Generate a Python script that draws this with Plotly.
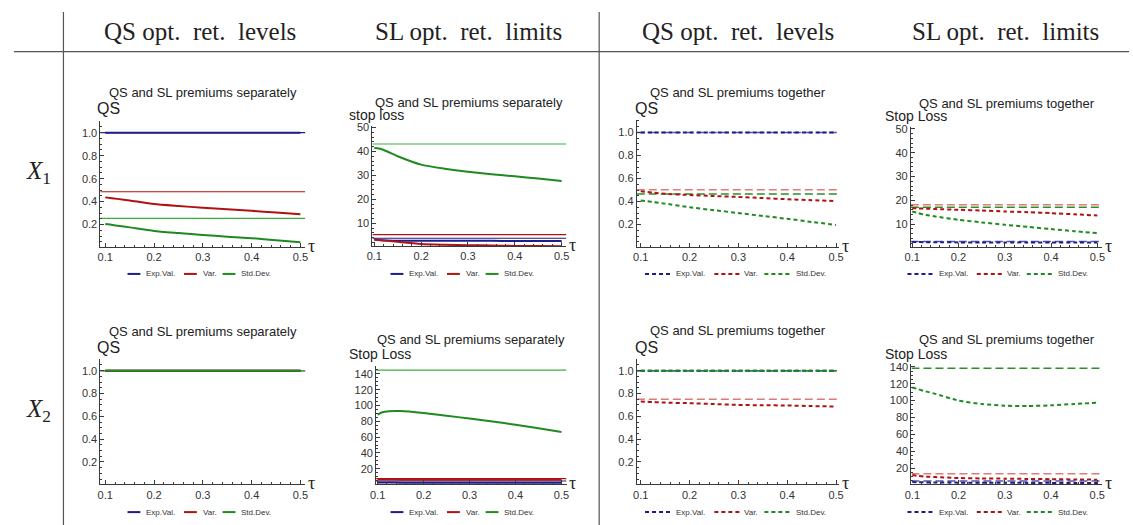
import plotly.graph_objects as go

W, H = 1133, 525

# ---------------- data ----------------
TAU = [0.1, 0.11, 0.125, 0.15, 0.2, 0.25, 0.3, 0.35, 0.4, 0.45, 0.5]
SERIES = ["Exp.Val.", "Var.", "Std.Dev."]
COL_HEADERS = ["QS opt.\u00a0 ret.\u00a0 levels", "SL opt.\u00a0 ret.\u00a0 limits",
               "QS opt.\u00a0 ret.\u00a0 levels", "SL opt.\u00a0 ret.\u00a0 limits"]
ROW_LABELS = ["<i>X</i><sub>1</sub>", "<i>X</i><sub>2</sub>"]
PANEL_TITLES = ["QS and SL premiums separately", "QS and SL premiums separately",
                "QS and SL premiums together", "QS and SL premiums together"]
Y_LABELS = [["QS", "stop loss", "QS", "Stop Loss"],
            ["QS", "Stop Loss", "QS", "Stop Loss"]]

# X1, QS, separately  (constants: Exp.Val., Var., Std.Dev.)
X1_QS_SEP_CONST = [1.0, 0.486, 0.255]
X1_QS_SEP_EV = [1.0, 1.0, 1.0, 1.0, 1.0, 1.0, 1.0, 1.0, 1.0, 1.0, 1.0]
X1_QS_SEP_VAR = [0.437, 0.432, 0.424, 0.41, 0.379, 0.362, 0.347, 0.333, 0.32, 0.305, 0.29]
X1_QS_SEP_SD = [0.206, 0.2, 0.191, 0.176, 0.145, 0.127, 0.11, 0.095, 0.082, 0.064, 0.047]

# X1, SL, separately
X1_SL_SEP_CONST = [3.8, 5.3, 43.1]
X1_SL_SEP_EV = [3.4, 3.1, 2.9, 2.8, 2.75, 2.7, 2.7, 2.7, 2.65, 2.6, 2.6]
X1_SL_SEP_VAR = [3.2, 3.1, 2.8, 2.3, 1.4, 1.1, 0.9, 0.75, 0.6, 0.55, 0.5]
X1_SL_SEP_SD = [41.4, 41.2, 40.2, 38.0, 34.5, 32.8, 31.5, 30.5, 29.6, 28.7, 27.7]

# X1, QS, together
X1_QS_TOG_CONST = [1.0, 0.503, 0.466]
X1_QS_TOG_EV = [1.0, 1.0, 1.0, 1.0, 1.0, 1.0, 1.0, 1.0, 1.0, 1.0, 1.0]
X1_QS_TOG_VAR = [0.49, 0.485, 0.478, 0.468, 0.457, 0.448, 0.44, 0.43, 0.42, 0.412, 0.405]
X1_QS_TOG_SD = [0.41, 0.404, 0.396, 0.382, 0.35, 0.325, 0.3, 0.275, 0.25, 0.223, 0.197]

# X1, SL, together
X1_SL_TOG_CONST = [2.7, 18.1, 17.1]
X1_SL_TOG_EV = [2.5, 2.45, 2.4, 2.35, 2.3, 2.3, 2.3, 2.3, 2.25, 2.25, 2.2]
X1_SL_TOG_VAR = [16.7, 16.6, 16.5, 16.3, 16.0, 15.7, 15.3, 15.0, 14.6, 14.1, 13.6]
X1_SL_TOG_SD = [15.3, 14.8, 14.0, 13.2, 11.8, 10.7, 9.7, 8.8, 7.9, 7.0, 6.2]

# X2, QS, separately
X2_QS_SEP_CONST = [1.0, 1.0, 1.0]
X2_QS_SEP_EV = [1.0, 1.0, 1.0, 1.0, 1.0, 1.0, 1.0, 1.0, 1.0, 1.0, 1.0]
X2_QS_SEP_VAR = [1.0, 1.0, 1.0, 1.0, 1.0, 1.0, 1.0, 1.0, 1.0, 1.0, 1.0]
X2_QS_SEP_SD = [1.0, 1.0, 1.0, 1.0, 1.0, 1.0, 1.0, 1.0, 1.0, 1.0, 1.0]

# X2, SL, separately
X2_SL_SEP_CONST = [4.5, 7.5, 144.6]
X2_SL_SEP_EV = [2.6, 2.5, 2.5, 2.4, 2.4, 2.3, 2.3, 2.3, 2.3, 2.2, 2.2]
X2_SL_SEP_VAR = [6.5, 6.4, 6.3, 6.2, 6.2, 6.1, 6.1, 6.0, 6.0, 6.0, 6.0]
X2_SL_SEP_SD = [88.5, 91.5, 92.8, 93.0, 90.5, 87.0, 83.5, 79.8, 75.6, 71.2, 66.4]

# X2, QS, together
X2_QS_TOG_CONST = [1.0, 0.75, 1.0]
X2_QS_TOG_EV = [1.0, 1.0, 1.0, 1.0, 1.0, 1.0, 1.0, 1.0, 1.0, 1.0, 1.0]
X2_QS_TOG_VAR = [0.73, 0.728, 0.725, 0.72, 0.715, 0.708, 0.70, 0.697, 0.695, 0.69, 0.686]
X2_QS_TOG_SD = [1.0, 1.0, 1.0, 1.0, 1.0, 1.0, 1.0, 1.0, 1.0, 1.0, 1.0]

# X2, SL, together
X2_SL_TOG_CONST = [4.8, 13.3, 138.3]
X2_SL_TOG_EV = [3.5, 3.3, 3.1, 2.9, 2.8, 2.7, 2.6, 2.5, 2.5, 2.4, 2.4]
X2_SL_TOG_VAR = [11.8, 11.0, 10.0, 9.4, 8.2, 7.8, 7.5, 7.2, 6.9, 6.6, 6.3]
X2_SL_TOG_SD = [115.6, 114.0, 111.5, 108.0, 100.0, 96.0, 94.0, 93.6, 94.4, 96.0, 97.6]

PANEL_DATA = [
    [(X1_QS_SEP_CONST, X1_QS_SEP_EV, X1_QS_SEP_VAR, X1_QS_SEP_SD),
     (X1_SL_SEP_CONST, X1_SL_SEP_EV, X1_SL_SEP_VAR, X1_SL_SEP_SD),
     (X1_QS_TOG_CONST, X1_QS_TOG_EV, X1_QS_TOG_VAR, X1_QS_TOG_SD),
     (X1_SL_TOG_CONST, X1_SL_TOG_EV, X1_SL_TOG_VAR, X1_SL_TOG_SD)],
    [(X2_QS_SEP_CONST, X2_QS_SEP_EV, X2_QS_SEP_VAR, X2_QS_SEP_SD),
     (X2_SL_SEP_CONST, X2_SL_SEP_EV, X2_SL_SEP_VAR, X2_SL_SEP_SD),
     (X2_QS_TOG_CONST, X2_QS_TOG_EV, X2_QS_TOG_VAR, X2_QS_TOG_SD),
     (X2_SL_TOG_CONST, X2_SL_TOG_EV, X2_SL_TOG_VAR, X2_SL_TOG_SD)],
]

# ---------------- layout geometry (pixels) ----------------
GEOM = [
    [dict(x0=94.3, x1=301.2, yb=245, yt=118.1, xr=[0.09, 0.51], yr=[0.004, 1.1], kind="qs"),
     dict(x0=369.0, x1=564.8, yb=244, yt=122.7, xr=[0.096, 0.51], yr=[0.5, 50.7], kind="sl50"),
     dict(x0=636.0, x1=840.6, yb=245, yt=116.7, xr=[0.092, 0.507], yr=[0.004, 1.11], kind="qs"),
     dict(x0=912.7, x1=1106.2, yb=245, yt=123.5, xr=[0.097, 0.511], yr=[0.3, 51], kind="sl50")],
    [dict(x0=94.3, x1=301.2, yb=484, yt=358, xr=[0.09, 0.51], yr=[0.004, 1.1], kind="qs"),
     dict(x0=372.7, x1=565.0, yb=484, yt=364.3, xr=[0.0966, 0.511], yr=[0.3, 150.5], kind="sl140"),
     dict(x0=636.0, x1=840.6, yb=484, yt=358, xr=[0.092, 0.507], yr=[0.004, 1.1], kind="qs"),
     dict(x0=913.3, x1=1106.0, yb=484, yt=362.7, xr=[0.098, 0.511], yr=[0.8, 143.5], kind="sl140")],
]
TITLE_Y = [[89, 99, 89, 100.7], [330, 338.5, 329.5, 338.5]]
YLAB = [[(89, 105), (343, 112), (632, 105), (885, 113)],
        [(89, 346), (343, 353), (632, 346), (885, 353)]]
LEG_Y = [272, 512]
LEG_X = [121.7, 387.3, 644.3, 909.3]

BLUE, RED, GREEN = "#1c1c8a", "#b01212", "#1f8a1f"
CONST_SEP = ["#1c1c8a", "#b01212", "#3aae3a"]
CONST_TOG = ["#5555b0", "#e07a7a", "#2a8f2a"]
AXC = "#3a3a3a"
TXT = "#222222"

def px(x):
    return x / W

def py(y):
    return 1 - y / H

fig = go.Figure()
layout = {}
shapes = []
annotations = []

for r in range(2):
    for c in range(4):
        k = r * 4 + c + 1
        g = GEOM[r][c]
        xa = "x" if k == 1 else f"x{k}"
        ya = "y" if k == 1 else f"y{k}"
        consts, ev, var, sd = PANEL_DATA[r][c]
        together = c >= 2
        cols = [BLUE, RED, GREEN]
        ccols = CONST_TOG if together else CONST_SEP
        # constants (full width)
        for i in range(3):
            fig.add_trace(go.Scatter(
                x=g["xr"], y=[consts[i], consts[i]], mode="lines", xaxis=xa, yaxis=ya,
                line=dict(color=ccols[i], width=1.5 if together else 1.2,
                          dash="8px,4px" if together else "solid"),
                showlegend=False, hoverinfo="skip"))
        # curves
        for i, yy in enumerate([ev, var, sd]):
            fig.add_trace(go.Scatter(
                x=TAU, y=yy, mode="lines", xaxis=xa, yaxis=ya, name=SERIES[i],
                line=dict(color=cols[i], width=2, dash="4px,3px" if together else "solid",
                          shape="spline", smoothing=0.6),
                showlegend=False, hoverinfo="skip"))

        if g["kind"] == "qs":
            ydt, ymin, yfmt = 0.2, 0.05, ".1f"
        elif g["kind"] == "sl50":
            ydt, ymin, yfmt = 10, 2, "d"
        else:
            ydt, ymin, yfmt = 20, 5, "d"

        kx = "xaxis" if k == 1 else f"xaxis{k}"
        ky = "yaxis" if k == 1 else f"yaxis{k}"
        tickfont = dict(family="Liberation Sans, Arial", size=11, color="#333")
        layout[kx] = dict(domain=[px(g["x0"]), px(g["x1"])], range=g["xr"],
                          anchor=ya, showline=True, linecolor=AXC,
                          linewidth=1, ticks="inside", ticklen=4, tickcolor=AXC,
                          tickmode="linear", tick0=0.1, dtick=0.1, tickformat=".1f",
                          minor=dict(ticks="inside", ticklen=2, tickcolor=AXC,
                                     tick0=0.1, dtick=0.02),
                          showgrid=False, zeroline=False, tickfont=tickfont,
                          fixedrange=True)
        layout[ky] = dict(domain=[py(g["yb"]), py(g["yt"])], range=g["yr"],
                          anchor=xa, showline=True, linecolor=AXC, linewidth=1,
                          ticks="inside", ticklen=4, tickcolor=AXC,
                          tickmode="linear", tick0=0, dtick=ydt, tickformat=yfmt,
                          minor=dict(ticks="inside", ticklen=2, tickcolor=AXC,
                                     tick0=0, dtick=ymin),
                          showgrid=False, zeroline=False, tickfont=tickfont,
                          fixedrange=True)

        # panel title
        annotations.append(dict(x=px((g["x0"] + g["x1"]) / 2), y=py(TITLE_Y[r][c]),
                                xref="paper", yref="paper", text=PANEL_TITLES[c],
                                showarrow=False, xanchor="center", yanchor="middle",
                                font=dict(family="Liberation Sans, Arial", size=13, color=TXT)))
        # y label
        lx, ly = YLAB[r][c]
        annotations.append(dict(x=px(lx), y=py(ly), xref="paper", yref="paper",
                                text=Y_LABELS[r][c], showarrow=False, xanchor="left",
                                yanchor="middle",
                                font=dict(family="Liberation Sans, Arial",
                                          size=16 if Y_LABELS[r][c] == "QS" else 14,
                                          color=TXT)))
        # tau
        annotations.append(dict(x=px(g["x1"] + 6), y=py(g["yb"] - 1), xref="paper",
                                yref="paper", text="τ", showarrow=False,
                                xanchor="center", yanchor="middle",
                                font=dict(family="Liberation Serif", size=18, color=TXT)))
        # legend
        lx0 = LEG_X[c]
        ly0 = py(LEG_Y[r])
        if together:
            items = [(0, 26.5, 29.5), (70, 96, 98), (120.5, 146.5, 150)]
        else:
            items = [(0, 13, 17), (57, 70, 74), (96, 109, 113)]
        for i, (a, b, t) in enumerate(items):
            shapes.append(dict(type="line", xref="paper", yref="paper",
                               x0=px(lx0 + a), x1=px(lx0 + b), y0=ly0, y1=ly0,
                               line=dict(color=cols[i], width=2,
                                         dash="4px,3px" if together else "solid")))
            annotations.append(dict(x=px(lx0 + t), y=ly0, xref="paper", yref="paper",
                                    text=SERIES[i], showarrow=False, xanchor="left",
                                    yanchor="middle",
                                    font=dict(family="Liberation Sans, Arial", size=8,
                                              color="#333")))

# table lines
LINE_C = "#555555"
shapes.append(dict(type="line", xref="paper", yref="paper", x0=px(57), x1=px(57),
                   y0=py(8), y1=0, line=dict(color=LINE_C, width=1.2)))
shapes.append(dict(type="line", xref="paper", yref="paper", x0=px(598), x1=px(598),
                   y0=py(8), y1=0, line=dict(color=LINE_C, width=1.2)))
shapes.append(dict(type="line", xref="paper", yref="paper", x0=px(7), x1=1,
                   y0=py(48), y1=py(48), line=dict(color=LINE_C, width=1.2)))

HEADER_X = [195, 466.5, 738, 1008]
for c in range(4):
    annotations.append(dict(x=px(HEADER_X[c]), y=py(28), xref="paper", yref="paper",
                            text=COL_HEADERS[c], showarrow=False, xanchor="center",
                            yanchor="middle",
                            font=dict(family="Liberation Serif", size=25, color=TXT)))
ROW_Y = [170, 410]
for r in range(2):
    annotations.append(dict(x=px(32), y=py(ROW_Y[r]), xref="paper", yref="paper",
                            text=ROW_LABELS[r], showarrow=False, xanchor="center",
                            yanchor="middle",
                            font=dict(family="Liberation Serif", size=25, color=TXT)))

fig.update_layout(width=W, height=H, margin=dict(l=0, r=0, t=0, b=0),
                  paper_bgcolor="white", plot_bgcolor="white", showlegend=False,
                  shapes=shapes, annotations=annotations, **layout)
fig.write_html("out.html", config={"displayModeBar": False},
               post_script="document.body.style.margin='0';document.body.style.overflow='hidden';")
